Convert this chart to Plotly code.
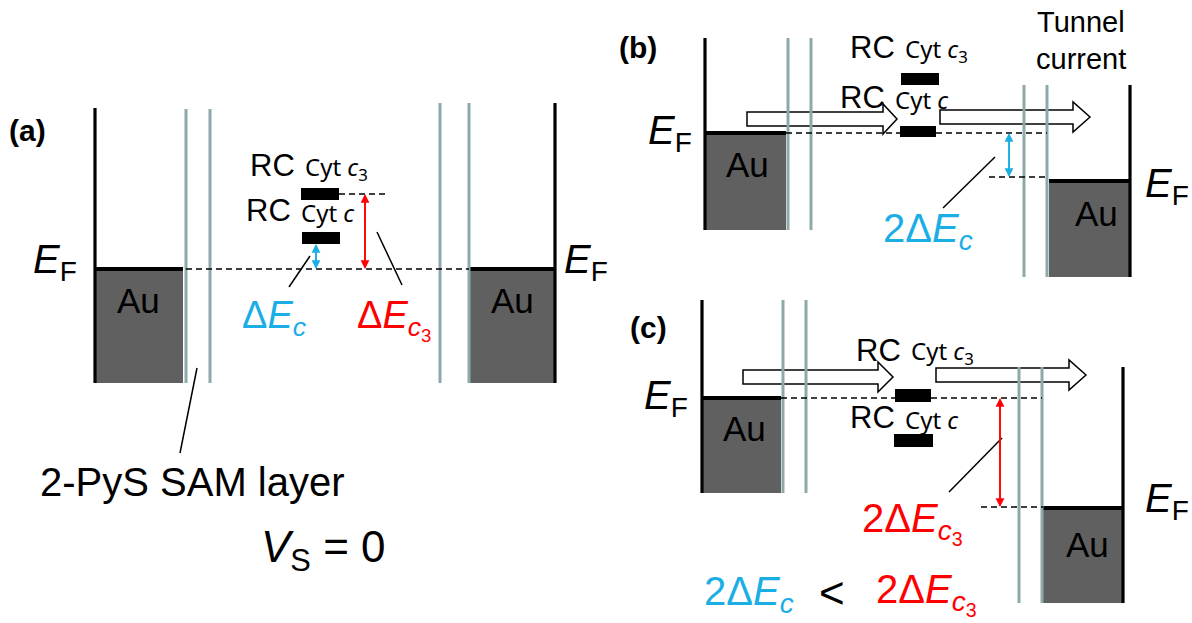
import plotly.graph_objects as go

# ---------------- data (energy levels, figure units: px from top) ----------------
panel_labels = ["(a)", "(b)", "(c)"]
ef_left = [269, 133, 398]        # Fermi level of left Au electrode
ef_right = [269, 181, 508]       # Fermi level of right Au electrode
cyt_c3_level = [194, 79, 395]    # RC Cyt c3 level
cyt_c_level = [238, 131, 440]    # RC Cyt c level
gap_labels = ["Δ<i>E</i><sub><i>c</i></sub>",
              "Δ<i>E</i><sub><i>c</i><sub>3</sub></sub>",
              "2Δ<i>E</i><sub><i>c</i></sub>",
              "2Δ<i>E</i><sub><i>c</i><sub>3</sub></sub>"]

# ---------------- styles ----------------
W, H = 1192, 623
GREY = "#8fa8a9"
AU = "#606060"
BLUE = "#1aaee5"
RED = "#ff0000"
ARIAL = "Liberation Sans, Arial"
CYT = "Noto Sans, Liberation Sans"

shapes = []
anns = []


def seg(x0, y0, x1, y1, color="black", w=1.5, dash=None):
    shapes.append(dict(type="line", xref="x", yref="y", x0=x0, y0=y0, x1=x1, y1=y1,
                       line=dict(color=color, width=w, dash=dash), layer="above"))


def rect(x0, y0, x1, y1, fill="black"):
    shapes.append(dict(type="rect", xref="x", yref="y", x0=x0, y0=y0, x1=x1, y1=y1,
                       fillcolor=fill, line=dict(width=0), layer="above"))


def hollow_arrow(x0, xh, x1, yc, hb=7, hh=15):
    path = (f"M{x0},{yc-hb} L{xh},{yc-hb} L{xh},{yc-hh} L{x1},{yc} L{xh},{yc+hh} "
            f"L{xh},{yc+hb} L{x0},{yc+hb} Z")
    shapes.append(dict(type="path", xref="x", yref="y", path=path, fillcolor="white",
                       line=dict(color="black", width=1.5), layer="above"))


def txt(x, y, s, size, color="black", family=ARIAL, xanchor="center", yanchor="middle"):
    anns.append(dict(x=x, y=y, xref="x", yref="y", text=s, showarrow=False,
                     font=dict(size=size, color=color, family=family),
                     xanchor=xanchor, yanchor=yanchor))


def darrow(x, y0, y1, color):
    for ya, yb in ((y0, y1), (y1, y0)):
        anns.append(dict(x=x, y=yb, ax=x, ay=ya, xref="x", yref="y", axref="x", ayref="y",
                         text="", showarrow=True, arrowhead=2, arrowsize=1.1,
                         arrowwidth=1.6, arrowcolor=color, standoff=0, startstandoff=0))


def electrode(xwall, xinner, top, bottom, ef, side):
    # Au filled region, its Fermi line and the outer wall
    xa, xb = (xwall, xinner) if side == "L" else (xinner, xwall)
    rect(xa, ef, xb, bottom, AU)
    seg(xa, ef, xb, ef, "black", 4)
    seg(xwall, top, xwall, bottom, "black", 3.2)


def sam(xs, top, bottom):
    for xv in xs:
        seg(xv, top, xv, bottom, GREY, 3)


EF_TXT = "<i>E</i><sub>F</sub>"
EF_SIZE = 40
RC_SIZE = 31
CYT_SIZE = 24
AU_SIZE = 35
LBL_SIZE = 30

# ======================= panel (a) =======================
i = 0
txt(27, 130, "<b>" + panel_labels[i] + "</b>", LBL_SIZE)
electrode(95, 183, 108, 383, ef_left[i], "L")
electrode(555, 469, 103, 383, ef_right[i], "R")
sam([186, 210], 109, 383)
sam([440, 469], 103, 383)
seg(186, ef_left[i], 469, ef_left[i], "black", 1.5, "6px,4px")
rect(301, cyt_c3_level[i] - 6, 339, cyt_c3_level[i] + 6)
seg(339, cyt_c3_level[i], 389, cyt_c3_level[i], "black", 1.5, "6px,4px")
rect(302, cyt_c_level[i] - 6, 340, cyt_c_level[i] + 6)
darrow(316, cyt_c_level[i] + 6, ef_left[i], BLUE)
darrow(365, cyt_c3_level[i], ef_left[i], RED)
seg(289, 287, 310, 256)
seg(377, 232, 402, 285)
seg(197, 368, 180, 453)
txt(297, 165, "RC", RC_SIZE, xanchor="right")
txt(303, 168, "Cyt <i>c</i><sub>3</sub>", CYT_SIZE, family=CYT, xanchor="left")
txt(293, 210, "RC", RC_SIZE, xanchor="right")
txt(299, 212, "Cyt <i>c</i>", CYT_SIZE, family=CYT, xanchor="left")
txt(55, 262, EF_TXT, EF_SIZE)
txt(586, 262, EF_TXT, EF_SIZE)
txt(138, 300, "Au", AU_SIZE)
txt(512, 300, "Au", AU_SIZE)
txt(274, 318, gap_labels[0], 38, BLUE)
txt(394, 320, gap_labels[1], 38, RED)
txt(192, 482, "2-PyS SAM layer", 40)
txt(323, 550, "<i>V</i><sub>S</sub> = 0", 44)

# ======================= panel (b) =======================
i = 1
txt(638, 47, "<b>" + panel_labels[i] + "</b>", LBL_SIZE)
hollow_arrow(747, 883, 897, 119)
hollow_arrow(940, 1073, 1090, 117)
electrode(705, 786, 38, 230, ef_left[i], "L")
electrode(1130, 1049, 85, 277, ef_right[i], "R")
sam([788, 811], 38, 230)
sam([1024, 1047], 85, 277)
seg(786, ef_left[i], 1047, ef_left[i], "black", 1.5, "6px,4px")
seg(989, ef_right[i] - 4, 1047, ef_right[i] - 4, "black", 1.5, "6px,4px")
rect(901, cyt_c3_level[i] - 6, 939, cyt_c3_level[i] + 6)
rect(900, cyt_c_level[i] - 5, 936, cyt_c_level[i] + 6)
darrow(1009, ef_left[i], ef_right[i] - 4, BLUE)
seg(943, 208, 995, 157)
txt(897, 47, "RC", RC_SIZE, xanchor="right")
txt(903, 50, "Cyt <i>c</i><sub>3</sub>", CYT_SIZE, family=CYT, xanchor="left")
txt(887, 97, "RC", RC_SIZE, xanchor="right")
txt(893, 99, "Cyt <i>c</i>", CYT_SIZE, family=CYT, xanchor="left")
txt(670, 133, EF_TXT, EF_SIZE)
txt(1191, 186, EF_TXT, EF_SIZE, xanchor="right")
txt(747, 164, "Au", AU_SIZE)
txt(1096, 213, "Au", AU_SIZE)
txt(928, 231, gap_labels[2], 40, BLUE)
txt(1081, 22, "Tunnel", 29)
txt(1081, 59, "current", 29)

# ======================= panel (c) =======================
i = 2
txt(648, 327, "<b>" + panel_labels[i] + "</b>", LBL_SIZE)
hollow_arrow(743, 878, 893, 377)
hollow_arrow(936, 1069, 1086, 375)
electrode(702, 781, 300, 493, ef_left[i], "L")
electrode(1123, 1043, 367, 603, ef_right[i], "R")
sam([783, 806], 300, 493)
sam([1019, 1042], 367, 603)
seg(781, ef_left[i], 1042, ef_left[i], "black", 1.5, "6px,4px")
seg(981, ef_right[i] - 1, 1043, ef_right[i] - 1, "black", 1.5, "6px,4px")
rect(895, cyt_c3_level[i] - 6, 931, cyt_c3_level[i] + 7)
rect(894, cyt_c_level[i] - 6, 933, cyt_c_level[i] + 7)
darrow(1000, ef_left[i], ef_right[i] - 1, RED)
seg(949, 492, 1002, 438)
txt(903, 350, "RC", RC_SIZE, xanchor="right")
txt(909, 352, "Cyt <i>c</i><sub>3</sub>", CYT_SIZE, family=CYT, xanchor="left")
txt(897, 417, "RC", RC_SIZE, xanchor="right")
txt(903, 419, "Cyt <i>c</i>", CYT_SIZE, family=CYT, xanchor="left")
txt(666, 398, EF_TXT, EF_SIZE)
txt(1191, 501, EF_TXT, EF_SIZE, xanchor="right")
txt(744, 428, "Au", AU_SIZE)
txt(1087, 544, "Au", AU_SIZE)
txt(912, 523, gap_labels[3], 40, RED)
txt(702, 594, gap_labels[2], 40, BLUE, xanchor="left")
txt(832, 592, "&lt;", 44)
txt(874, 594, gap_labels[3], 40, RED, xanchor="left")

fig = go.Figure()
fig.update_layout(
    width=W, height=H, margin=dict(l=0, r=0, t=0, b=0),
    paper_bgcolor="white", plot_bgcolor="white", showlegend=False,
    xaxis=dict(range=[0, W], visible=False, fixedrange=True),
    yaxis=dict(range=[H, 0], visible=False, fixedrange=True),
    shapes=shapes, annotations=anns,
)
fig.write_html("out.html", config={"displayModeBar": False},
               post_script="document.body.style.margin='0';document.body.style.overflow='hidden';")
